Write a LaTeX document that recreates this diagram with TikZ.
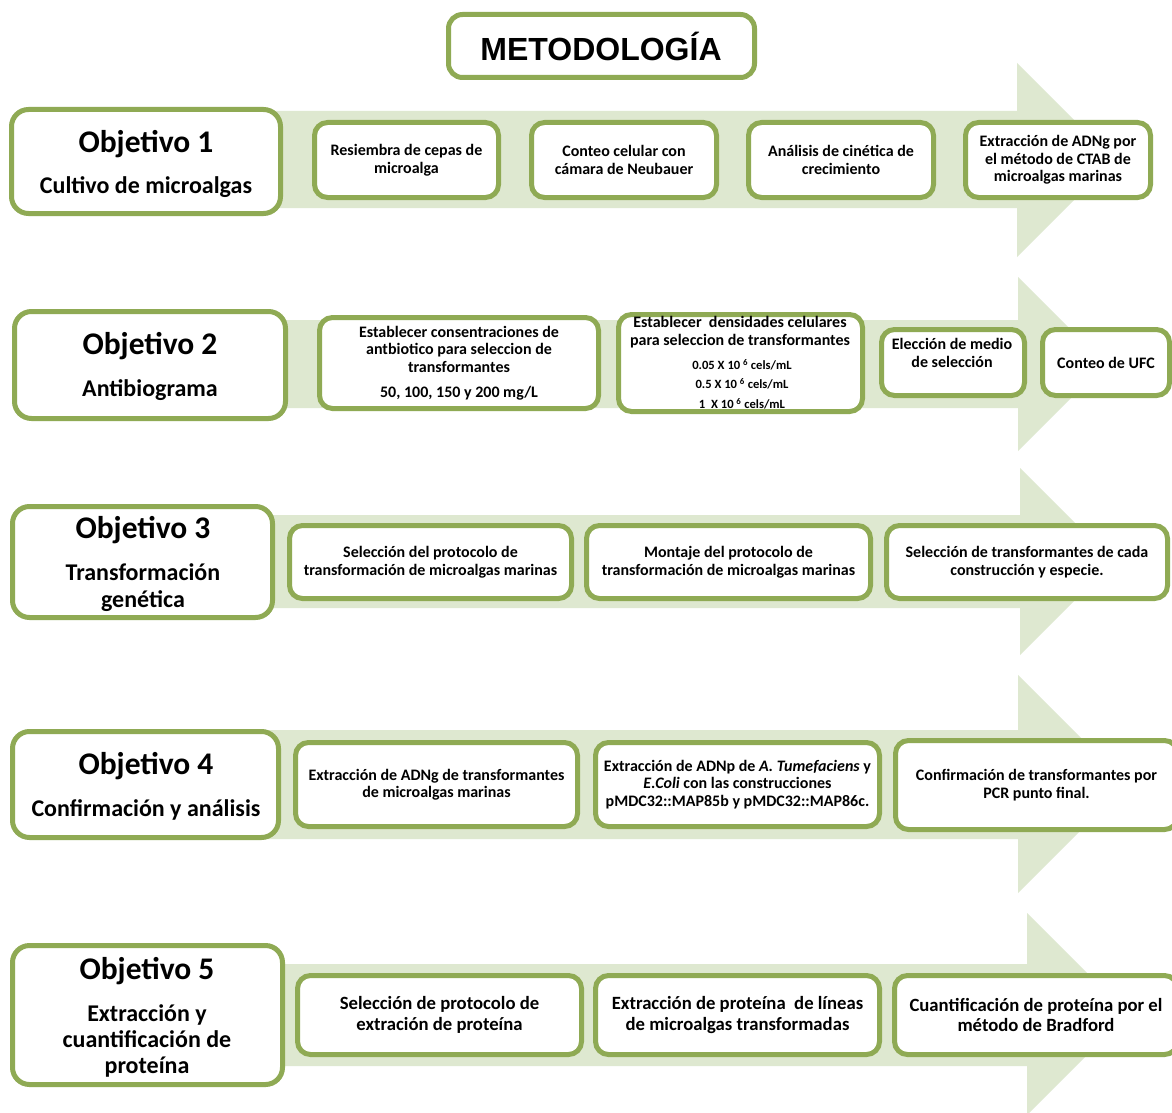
\documentclass[tikz,border=0pt]{standalone}
\usepackage{fontspec}
\setmainfont{Carlito}
\newfontfamily\arialfont{Liberation Sans}
\definecolor{brd}{RGB}{143,170,84}
\definecolor{afill}{RGB}{222,232,208}
\newcommand\steptxt{\fontsize{16}{17.5}\selectfont\bfseries}
\newcommand\stepbigtxt{\fontsize{18.7}{20.5}\selectfont\bfseries}
\newcommand\bx[6]{\node[#1, minimum width={(#4-#2)*1pt-5pt}, minimum height={(#5-#3)*1pt-5pt}] (#6) at ({(#2+#4)/2},{(#3+#5)/2})}
\newcommand\arrowrow[6]{%
  \fill[afill] (#1,#2) -- (#6,#2) -- (#6,#4) -- ({#6+(#5-#4)/2},{(#4+#5)/2}) -- (#6,#5) -- (#6,#3) -- (#1,#3) -- cycle;}
\tikzset{
  titlebox/.style={draw=brd, line width=5pt, rounded corners=14pt, fill=white, inner sep=0pt},
  objbox/.style={draw=brd, line width=5pt, rounded corners=17pt, fill=white, inner sep=0pt},
  stepbox/.style={draw=brd, line width=5pt, rounded corners=13pt, fill=white, inner sep=0pt, align=center, font=\steptxt},
  stepbig/.style={stepbox, font=\stepbigtxt},
  objtitle/.style={anchor=base, inner sep=0pt, font=\fontsize{31.5}{36}\selectfont\bfseries},
  objsub/.style={anchor=base, inner sep=0pt, font=\fontsize{24}{26.5}\selectfont\bfseries},
  freetext/.style={inner sep=0pt, align=center, font=\steptxt},
  smalltext/.style={inner sep=0pt, align=center, font=\fontsize{12.6}{19.5}\selectfont\bfseries},
}
\begin{document}
\begin{tikzpicture}[x=1pt,y=-1pt]
\useasboundingbox (0,0) rectangle (1172,1113);
\fill[white] (0,0) rectangle (1172,1113);

% title
\bx{titlebox}{446}{12}{757}{80}{tb} {};
\node[anchor=base, inner sep=0pt, font=\arialfont\fontsize{32}{36}\selectfont\bfseries] (tt) at (601,61) {METODOLOGÍA};

% arrows
\arrowrow{150}{111}{208}{63}{257}{1017}
\arrowrow{150}{320}{408}{277}{451}{1018}
\arrowrow{150}{515}{608}{468}{655}{1020}
\arrowrow{150}{730}{839}{675}{893}{1018}
\arrowrow{150}{964}{1066}{913}{1115}{1027}

% row 1
\bx{objbox}{9}{107}{283}{216}{o1} {};
\node[objtitle] (o1a) at (146,152) {Objetivo 1};
\node[objsub] (o1b) at (146,193) {Cultivo de microalgas};
\bx{stepbox}{312}{120}{501}{200}{s11} {Resiembra de cepas de\\microalga};
\bx{stepbox}{529}{120}{719}{200}{s12} {Conteo celular con\\cámara de Neubauer};
\bx{stepbox}{746}{120}{936}{200}{s13} {Análisis de cinética de\\crecimiento};
\bx{stepbox}{963}{120}{1153}{200}{s14} {Extracción de ADNg por\\el método de CTAB de\\microalgas marinas};

% row 2
\bx{objbox}{12}{309}{288}{421}{o2} {};
\node[objtitle] (o2a) at (150,354) {Objetivo 2};
\node[objsub] (o2b) at (150,396) {Antibiograma};
\bx{stepbox}{317}{315}{601}{411}{s21} {Establecer consentraciones de\\antbiotico para seleccion de\\transformantes\\[7.5pt]50, 100, 150 y 200 mg/L};
\bx{stepbox}{616}{312}{865}{414}{s22} {};
\node[freetext] (t22a) at (740,332) {Establecer~ densidades celulares\\para seleccion de transformantes};
\node[smalltext] (t22b) at (742,384) {0.05 X 10 \textsuperscript{6} cels/mL\\0.5 X 10 \textsuperscript{6} cels/mL\\1~ X 10 \textsuperscript{6} cels/mL};
\bx{stepbox}{879}{327}{1027}{398}{s23} {};
\node[freetext] (t23) at (952,353) {Elección de medio\\de selección};
\bx{stepbox}{1040}{327}{1172}{398}{s24} {Conteo de UFC};

% row 3
\bx{objbox}{10}{504}{275}{620}{o3} {};
\node[objtitle] (o3a) at (143,538) {Objetivo 3};
\node[objsub] (o3b) at (143,580.5) {Transformación};
\node[objsub] (o3c) at (143,607) {genética};
\bx{stepbox}{287}{523}{574}{601}{s31} {Selección del protocolo de\\transformación de microalgas marinas};
\bx{stepbox}{584}{523}{873}{601}{s32} {Montaje del protocolo de\\transformación de microalgas marinas};
\bx{stepbox}{884}{523}{1170}{601}{s33} {Selección de transformantes de cada\\construcción y especie.};

% row 4
\bx{objbox}{10}{729}{281}{840}{o4} {};
\node[objtitle] (o4a) at (146,774) {Objetivo 4};
\node[objsub] (o4b) at (146,816) {Confirmación y análisis};
\bx{stepbox}{293}{740}{580}{829}{s41} {Extracción de ADNg de transformantes\\de microalgas marinas};
\bx{stepbox}{593}{740}{882}{829}{s42} {Extracción de ADNp de \textit{A. Tumefaciens} y\\\textit{E.Coli} con las construcciones\\pMDC32::MAP85b y pMDC32::MAP86c.};
\bx{stepbox}{893}{738}{1180}{832}{s43} {Confirmación de transformantes por\\PCR punto final.};

% row 5
\bx{objbox}{10}{943}{285}{1087}{o5} {};
\node[objtitle] (o5a) at (147,979) {Objetivo 5};
\node[objsub] (o5b) at (147,1021) {Extracción y};
\node[objsub] (o5c) at (147,1047) {cuantificación de};
\node[objsub] (o5d) at (147,1073) {proteína};
\bx{stepbig}{295}{973}{584}{1057}{s51} {Selección de protocolo de\\extración de proteína};
\bx{stepbig}{593}{973}{882}{1057}{s52} {Extracción de proteína~ de líneas\\de microalgas transformadas};
\bx{stepbig}{892}{973}{1180}{1057}{s53} {Cuantificación de proteína por el\\método de Bradford};
\end{tikzpicture}
\end{document}
